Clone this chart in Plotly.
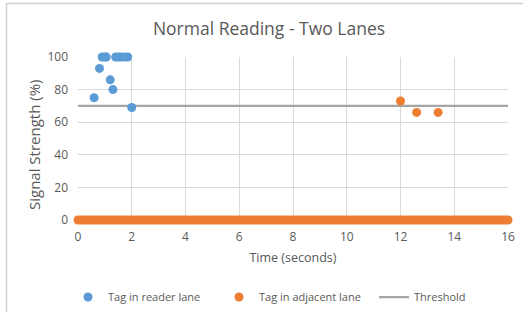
import plotly.graph_objects as go

# Tag in reader lane (blue)
reader_time = [0.6, 0.8, 0.9, 1.0, 1.05, 1.2, 1.3, 1.4, 1.5, 1.6, 1.75, 1.85, 2.0]
reader_signal = [75, 93, 100, 100, 100, 86, 80, 100, 100, 100, 100, 100, 69]

# Tag in adjacent lane (orange): three readings above zero, then zero readings across the run
adjacent_time = [12.0, 12.6, 13.4,
                 0.0, 0.1, 0.2, 0.3, 0.4, 0.5, 0.6, 0.7, 0.8, 0.9, 1.0, 1.1, 1.2, 1.3, 1.4, 1.5, 1.6, 1.7, 1.8, 1.9,
                 2.0, 2.1, 2.2, 2.3, 2.4, 2.5, 2.6, 2.7, 2.8, 2.9, 3.0, 3.1, 3.2, 3.3, 3.4, 3.5, 3.6, 3.7, 3.8, 3.9,
                 4.0, 4.1, 4.2, 4.3, 4.4, 4.5, 4.6, 4.7, 4.8, 4.9, 5.0, 5.1, 5.2, 5.3, 5.4, 5.5, 5.6, 5.7, 5.8, 5.9,
                 6.0, 6.1, 6.2, 6.3, 6.4, 6.5, 6.6, 6.7, 6.8, 6.9, 7.0, 7.1, 7.2, 7.3, 7.4, 7.5, 7.6, 7.7, 7.8, 7.9,
                 8.0, 8.1, 8.2, 8.3, 8.4, 8.5, 8.6, 8.7, 8.8, 8.9, 9.0, 9.1, 9.2, 9.3, 9.4, 9.5, 9.6, 9.7, 9.8, 9.9,
                 10.0, 10.1, 10.2, 10.3, 10.4, 10.5, 10.6, 10.7, 10.8, 10.9, 11.0, 11.1, 11.2, 11.3, 11.4, 11.5,
                 11.6, 11.7, 11.8, 11.9, 12.0, 12.1, 12.2, 12.3, 12.4, 12.5, 12.6, 12.7, 12.8, 12.9, 13.0, 13.1,
                 13.2, 13.3, 13.4, 13.5, 13.6, 13.7, 13.8, 13.9, 14.0, 14.1, 14.2, 14.3, 14.4, 14.5, 14.6, 14.7,
                 14.8, 14.9, 15.0, 15.1, 15.2, 15.3, 15.4, 15.5, 15.6, 15.7, 15.8, 15.9, 16.0]
adjacent_signal = [73, 66, 66] + [0] * 161

# Threshold
threshold_time = [0, 16]
threshold_value = [70, 70]

x_ticks = [0, 2, 4, 6, 8, 10, 12, 14, 16]
y_ticks = [0, 20, 40, 60, 80, 100]

font_family = "Open Sans, Liberation Sans, sans-serif"
text_gray = "#595959"

L, R, T, B = 78, 15, 57, 92
PW, PH = 523 - L - R, 312 - T - B


def px_x(px):
    return (px - L) / PW


def px_y(py):
    return (312 - B - py) / PH


fig = go.Figure()
fig.add_trace(go.Scatter(x=threshold_time, y=threshold_value, mode="lines",
                         line=dict(color="#A5A5A5", width=2.25), name="Threshold",
                         legend="legend3", cliponaxis=False))
fig.add_trace(go.Scatter(x=adjacent_time, y=adjacent_signal, mode="markers",
                         marker=dict(color="#ED7D31", size=9), name="Tag in adjacent lane",
                         legend="legend2", cliponaxis=False))
fig.add_trace(go.Scatter(x=reader_time, y=reader_signal, mode="markers",
                         marker=dict(color="#5B9BD5", size=9), name="Tag in reader lane",
                         legend="legend", cliponaxis=False))

leg_common = dict(orientation="h", xanchor="left", yanchor="middle", y=px_y(297),
                  font=dict(size=11, color=text_gray), itemwidth=30, bgcolor="rgba(0,0,0,0)")

fig.update_layout(
    width=523, height=312,
    margin=dict(l=L, r=R, t=T, b=B, autoexpand=False),
    paper_bgcolor="white", plot_bgcolor="white",
    font=dict(family=font_family, color=text_gray, size=12),
    title=dict(text="Normal Reading - Two Lanes", x=269 / 523, xanchor="center", y=1 - 29 / 312,
               yanchor="middle", font=dict(size=17.5, color=text_gray)),
    showlegend=True,
    legend=dict(x=px_x(68), **leg_common),
    legend2=dict(x=px_x(219), **leg_common),
    legend3=dict(x=px_x(374), **leg_common),
    xaxis=dict(range=[0, 16], tickvals=x_ticks, showgrid=True, gridcolor="#D9D9D9",
               zeroline=False, showline=False, ticks="", ticklabelstandoff=8,
               title=dict(text="Time (seconds)", font=dict(size=12.5, color=text_gray), standoff=9),
               tickfont=dict(size=12, color=text_gray)),
    yaxis=dict(range=[0, 100], tickvals=y_ticks, showgrid=True, gridcolor="#D9D9D9",
               zeroline=False, showline=False, ticks="", ticklabelstandoff=9,
               tickfont=dict(size=12, color=text_gray)),
)
fig.add_annotation(text="Signal Strength (%)", textangle=-90, xref="paper", yref="paper",
                   x=px_x(34), y=px_y(145), xanchor="center", yanchor="middle", showarrow=False,
                   font=dict(size=15, color=text_gray))
# outer chart border (left and top edges visible)
fig.add_shape(type="line", xref="paper", yref="paper", x0=px_x(6.5), x1=px_x(6.5),
              y0=px_y(3), y1=px_y(312), line=dict(color="#D0D0D0", width=1.5))
fig.add_shape(type="line", xref="paper", yref="paper", x0=px_x(6.5), x1=px_x(523),
              y0=px_y(3.5), y1=px_y(3.5), line=dict(color="#D0D0D0", width=1.5))

fig.write_html("out.html", post_script="document.body.style.margin='0';",
               config={"displayModeBar": False})
